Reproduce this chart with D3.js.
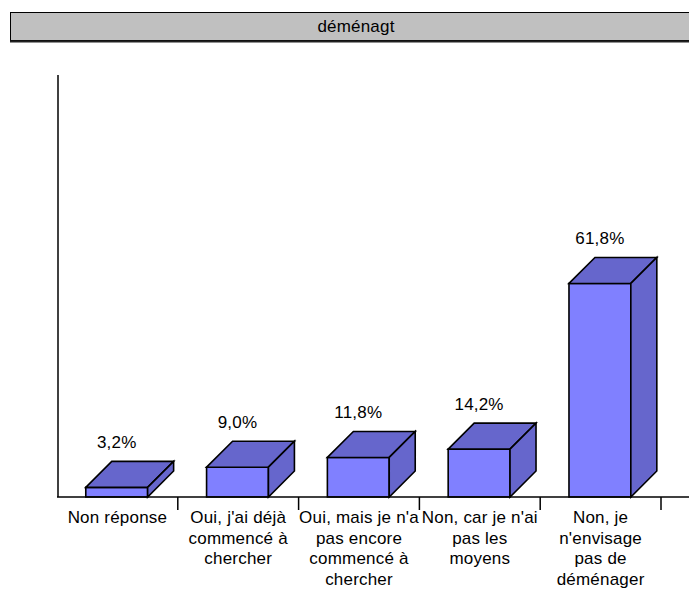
<!DOCTYPE html>
<html>
<head>
<meta charset="utf-8">
<script src="https://cdn.jsdelivr.net/npm/d3@7"></script>
<style>
  html, body { margin: 0; padding: 0; background: #fff; }
  svg { display: block; }
  text { font-family: "Liberation Sans", Arial, sans-serif; font-size: 17px; letter-spacing: 0.2px; fill: #000; }
</style>
</head>
<body>
<script>
const title = "déménagt";
const categories = [
  "Non réponse",
  "Oui, j'ai déjà commencé à chercher",
  "Oui, mais je n'ai pas encore commencé à chercher",
  "Non, car je n'ai pas les moyens",
  "Non, je n'envisage pas de déménager"
];
const categoryLines = [
  ["Non réponse"],
  ["Oui, j'ai déjà", "commencé à", "chercher"],
  ["Oui, mais je n'a", "pas encore", "commencé à", "chercher"],
  ["Non, car je n'ai", "pas les", "moyens"],
  ["Non, je", "n'envisage", "pas de", "déménager"]
];
const values = [3.2, 9.0, 11.8, 14.2, 61.8];
const valueLabels = ["3,2%", "9,0%", "11,8%", "14,2%", "61,8%"];

const W = 689, H = 589;
const svg = d3.select("body").append("svg").attr("width", W).attr("height", H);

// Title bar
svg.append("rect").attr("x", 10.5).attr("y", 12.5).attr("width", 720).attr("height", 28)
  .attr("fill", "#c0c0c0").attr("stroke", "#000").attr("stroke-width", 1);
svg.append("line").attr("x1", 10).attr("x2", W).attr("y1", 41.5).attr("y2", 41.5)
  .attr("stroke", "#222").attr("stroke-width", 2);
svg.append("text").attr("x", 356).attr("y", 32).attr("text-anchor", "middle").text(title);

const baseY = 497;
const depth = 26;
const x = d3.scaleBand().domain(categories).range([57, 661]).paddingInner(0.488).paddingOuter(0.244);
const y = d3.scaleLinear().domain([0, 100]).range([498.5, 150.5]);
const bw = x.bandwidth();
const gap = (x.step() - bw) / 2;

// axes
svg.append("line").attr("x1", 58).attr("x2", 58).attr("y1", 75).attr("y2", baseY)
  .attr("stroke", "#000").attr("stroke-width", 1.5);

const bars = svg.append("g");
categories.forEach((c, i) => {
  const x0 = x(c) - 0.7, x1 = x0 + bw, yt = y(values[i]), yb = baseY;
  const g = bars.append("g").attr("stroke", "#000").attr("stroke-width", 1.6).attr("stroke-linejoin", "miter");
  g.append("polygon").attr("points", [[x0, yb], [x0, yt], [x1, yt], [x1, yb]].join(" ")).attr("fill", "#8080ff");
  g.append("polygon").attr("points", [[x0, yt], [x0 + depth, yt - depth], [x1 + depth, yt - depth], [x1, yt]].join(" ")).attr("fill", "#6666cc");
  g.append("polygon").attr("points", [[x1, yt], [x1 + depth, yt - depth], [x1 + depth, yb - depth], [x1, yb]].join(" ")).attr("fill", "#6666cc");
  svg.append("text").attr("x", x0 + bw / 2).attr("y", yt - depth - 13.5).attr("text-anchor", "middle").text(valueLabels[i]);
});

svg.append("line").attr("x1", 57).attr("x2", W).attr("y1", baseY).attr("y2", baseY)
  .attr("stroke", "#000").attr("stroke-width", 1.5);

categories.forEach((c, i) => {
  const bx = x(c) + bw + gap;
  svg.append("line").attr("x1", bx).attr("x2", bx).attr("y1", baseY).attr("y2", baseY + 13)
    .attr("stroke", "#000").attr("stroke-width", 1.5);
  const t = svg.append("text").attr("text-anchor", "middle");
  categoryLines[i].forEach((ln, j) => {
    t.append("tspan").attr("x", x(c) + bw / 2).attr("y", 523 + j * 20.7).text(ln);
  });
});
</script>
</body>
</html>
